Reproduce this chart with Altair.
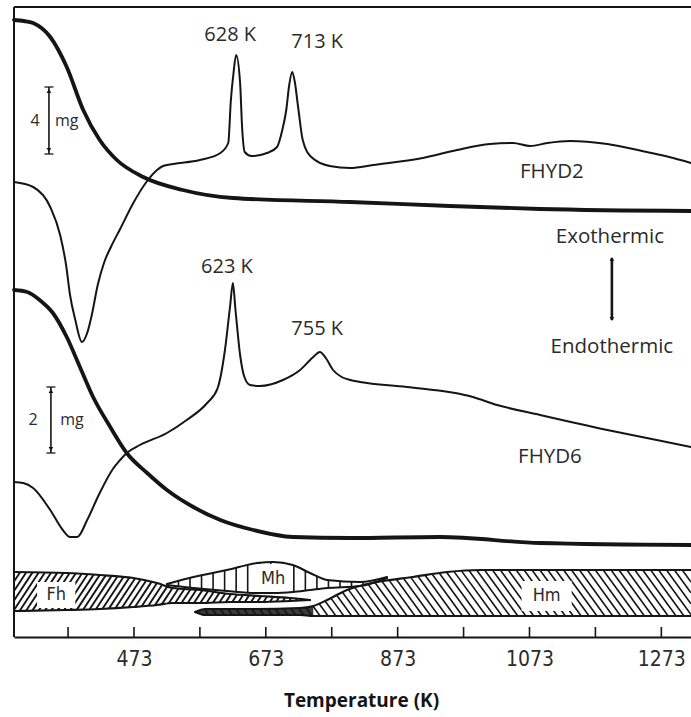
import altair as alt
import numpy as np
import pandas as pd

# Temperature axis (K) and an arbitrary signal scale (0 = bottom of the frame)
T_MIN, T_MAX = 291, 1318
S_MIN, S_MAX = 0, 630

tick_temps = [373, 473, 573, 673, 773, 873, 973, 1073, 1173, 1273]
label_temps = [473, 673, 873, 1073, 1273]

# FHYD2: TG (mass loss, thick) and DTA (thin)
fhyd2_tg_T = [291, 306, 320, 346, 371, 396, 421, 447, 487, 547, 623, 801, 952, 1089, 1318]
fhyd2_tg_v = [617, 616, 614, 600, 570, 527, 497, 477, 460, 447, 439, 435, 431, 428, 426]

fhyd2_dta_T = [291, 320, 346, 361, 370, 376, 384, 394, 402, 409,
               418, 428, 438, 452, 472, 493, 508, 517, 532, 573,
               604, 616, 620, 624, 628, 634, 637, 641, 651, 675,
               690, 698, 704, 708.5, 713, 717, 722, 729, 742, 770,
               801, 836, 911, 963, 1013, 1048, 1074, 1100, 1134, 1191,
               1251, 1291, 1318]
fhyd2_dta_v = [455, 450, 430, 402, 372, 342, 317, 295, 304, 322,
               352, 375, 390, 408, 434, 456, 467, 471, 473, 477,
               484, 494, 537, 564, 582, 554, 510, 485, 481, 484,
               490, 507, 527, 552, 565, 555, 530, 497, 480, 471,
               469, 472, 479, 487, 493, 494, 491, 494, 496, 493,
               485, 479, 474]

# FHYD6: TG (thick) and DTA (thin)
fhyd6_tg_T = [291, 311, 330, 350, 371, 391, 411, 437, 462, 493, 523, 563, 604, 654, 714, 801, 937, 1089, 1318]
fhyd6_tg_v = [347, 345, 337, 324, 300, 270, 240, 210, 184, 164, 147, 130, 117, 107, 100, 99, 100, 94, 92]

fhyd6_dta_T = [291, 305, 320, 346, 365, 376, 387, 402, 421, 441,
               452, 462, 482, 523, 553, 584, 600, 611, 619, 623,
               627, 634, 640, 649, 664, 699, 725, 745, 755, 764,
               775, 788, 801, 816, 887, 987, 1024, 1089, 1191, 1266,
               1318]
fhyd6_dta_v = [155, 154, 149, 127, 107, 100, 100, 117, 144, 168,
               177, 184, 192, 204, 217, 234, 249, 287, 332, 354,
               327, 282, 261, 252, 251, 257, 267, 280, 285, 279,
               267, 260, 257, 255, 250, 240, 232, 222, 207, 197,
               190]

# Phase bands: ferrihydrite (Fh), maghemite (Mh), hematite (Hm)
fh_T = [291, 371, 421, 472, 508, 532, 573, 619, 664, 710, 740]
fh_top = [65, 64, 62, 59, 54, 49, 47, 43, 41, 39, 37]
fh_bot = [26, 27, 28, 30, 32, 34, 34, 35, 35, 36, 37]

mh_T = [523, 563, 614, 660, 684, 714, 740, 766, 816, 857]
mh_top = [53, 60, 67, 74, 75, 72, 64, 57, 55, 60]
mh_bot = [52, 49, 46, 44, 44, 45, 47, 49, 51, 59]

hm_T = [566, 581, 649, 725, 745, 766, 796, 842, 896, 948, 998, 1318]
hm_top = [25, 28, 28, 29, 31, 37, 47, 55, 60, 65, 67, 67]
hm_bot = [25, 22, 22, 22, 21, 21, 21, 21, 21, 21, 21, 21]
hm_tongue_end = 745  # dense early-hematite tongue

# Peak annotations
peak_text = ["628 K", "713 K", "623 K", "755 K"]
peak_T = [619, 751, 614, 751]
peak_v = [602, 595, 370, 308]

# Other annotations
note_text = ["FHYD2", "FHYD6", "Exothermic", "Endothermic"]
note_T = [1107, 1104, 1195, 1198]
note_v = [465, 180, 400, 290]

# Band labels with their clear boxes (half-width in K, half-height in signal units)
band_text = ["Fh", "Mh", "Hm"]
band_T = [355, 684, 1099]
band_v = [42, 58, 41]
band_half_w = [29, 25, 38]
band_half_h = [13, 15, 15]

# Mass scale bars: position, lower and upper ends
bar_text = ["4", "2"]
bar_T = [344, 347]
bar_lo = [483, 184]
bar_hi = [550, 250]
bar_num_T = [323, 320]
bar_unit_T = [371, 379]

# Exo/endo arrow
arrow_T = 1198
arrow_lo, arrow_hi = 317, 379

INK = "#151515"
TXT = "#2b2b2b"
SANS = "Open Sans"
NARROW = "'Liberation Sans Narrow', 'DejaVu Sans Condensed', sans-serif"

xs = alt.Scale(domain=[T_MIN, T_MAX], nice=False, zero=False)
ys = alt.Scale(domain=[S_MIN, S_MAX], nice=False, zero=False)
X_AX = alt.Axis(values=label_temps, format="d", ticks=False, tickSize=0, grid=False,
                domain=True, domainColor=INK, domainWidth=2,
                labelFont=NARROW, labelFontSize=21, labelColor=TXT,
                labelPadding=11, labelFlush=False,
                title="Temperature (K)", titleFont=SANS, titleFontSize=19,
                titleFontWeight="bold", titleColor=INK,
                titleX=347, titleY=63, titleBaseline="middle")


def X(field):
    return alt.X(field, scale=xs, axis=X_AX)


def Y(field):
    return alt.Y(field, scale=ys, axis=None)


# ---- traces and band outlines ----
def trace(T, v, name, width):
    return pd.DataFrame({"T": T, "v": v, "series": name, "w": width})


lines_df = pd.concat([
    trace(fhyd2_tg_T, fhyd2_tg_v, "FHYD2 TG", 3.8),
    trace(fhyd2_dta_T, fhyd2_dta_v, "FHYD2 DTA", 2.0),
    trace(fhyd6_tg_T, fhyd6_tg_v, "FHYD6 TG", 3.8),
    trace(fhyd6_dta_T, fhyd6_dta_v, "FHYD6 DTA", 2.0),
    trace(fh_T, fh_top, "Fh top", 2.2),
    trace(fh_T, fh_bot, "Fh bottom", 2.2),
    trace(mh_T, mh_top, "Mh top", 2.0),
    trace(mh_T, mh_bot, "Mh bottom", 2.0),
    trace(hm_T, hm_top, "Hm top", 2.2),
    trace(hm_T, hm_bot, "Hm bottom", 2.2),
], ignore_index=True)


# ---- hatching clipped to each band ----
def hatch(T_edge, top_edge, bot_edge, spacing, lean, width):
    T_edge = np.asarray(T_edge, float)
    top_edge = np.asarray(top_edge, float)
    bot_edge = np.asarray(bot_edge, float)
    lo_T, hi_T = T_edge.min(), T_edge.max()
    lo_v, hi_v = bot_edge.min(), top_edge.max()
    vs = np.linspace(lo_v, hi_v, 400)
    reach = abs(lean) * (hi_v - lo_v)
    rows = []
    for c in np.arange(lo_T - reach - spacing, hi_T + reach + spacing, spacing):
        ts = c + lean * (vs - lo_v)
        top = np.interp(ts, T_edge, top_edge)
        bot = np.interp(ts, T_edge, bot_edge)
        inside = (ts >= lo_T) & (ts <= hi_T) & (vs <= top) & (vs >= bot)
        idx = np.flatnonzero(inside)
        if idx.size < 2:
            continue
        for run in np.split(idx, np.flatnonzero(np.diff(idx) > 1) + 1):
            if run.size < 2:
                continue
            rows.append({"x": ts[run[0]], "y": vs[run[0]],
                         "x2": ts[run[-1]], "y2": vs[run[-1]], "w": width})
    return rows


hatch_df = pd.DataFrame(
    hatch(fh_T, fh_top, fh_bot, 9.5, 1.0, 1.9)
    + hatch(mh_T, mh_top, mh_bot, 17.5, 0.0, 1.6)
    + hatch(hm_T, hm_top, hm_bot, 12.0, -1.1, 1.6)
)

n_tongue = sum(t <= hm_tongue_end for t in hm_T)
tongue_df = pd.DataFrame({"T": hm_T[:n_tongue], "top": hm_top[:n_tongue],
                          "bot": hm_bot[:n_tongue]})

boxes_df = pd.DataFrame({
    "x": [t - w for t, w in zip(band_T, band_half_w)],
    "x2": [t + w for t, w in zip(band_T, band_half_w)],
    "y": [v - h for v, h in zip(band_v, band_half_h)],
    "y2": [v + h for v, h in zip(band_v, band_half_h)],
})

frame_df = pd.DataFrame({"x": [T_MIN, T_MIN], "y": [S_MIN, S_MAX],
                         "x2": [T_MIN, T_MAX], "y2": [S_MAX, S_MAX]})
ticks_df = pd.DataFrame({"T": tick_temps})

bars_df = pd.DataFrame({"T": bar_T, "lo": bar_lo, "hi": bar_hi})
caps_df = pd.DataFrame({"T": bar_T + bar_T, "v": bar_lo + bar_hi})
heads_df = pd.DataFrame({
    "T": bar_T + bar_T + [arrow_T, arrow_T],
    "v": [v + 4 for v in bar_lo] + [v - 4 for v in bar_hi] + [arrow_lo + 1, arrow_hi - 1],
    "shape": ["triangle-down"] * 2 + ["triangle-up"] * 2 + ["triangle-down", "triangle-up"],
})
arrow_df = pd.DataFrame({"T": [arrow_T], "lo": [arrow_lo], "hi": [arrow_hi]})

peaks_df = pd.DataFrame({"T": peak_T, "v": peak_v, "text": peak_text})
notes_df = pd.DataFrame({"T": note_T, "v": note_v, "text": note_text})
bands_df = pd.DataFrame({"T": band_T, "v": band_v, "text": band_text})
bar_labels_df = pd.DataFrame({
    "T": bar_num_T + bar_unit_T,
    "v": [(a + b) / 2 for a, b in zip(bar_lo, bar_hi)] * 2,
    "text": bar_text + ["mg", "mg"],
})

layers = [
    alt.Chart(tongue_df).mark_area(color="#3a3a3a", interpolate="monotone").encode(
        x=X("T:Q"), y=Y("bot:Q"), y2="top:Q"),
    alt.Chart(hatch_df).mark_rule(color=INK).encode(
        x=X("x:Q"), x2="x2:Q", y=Y("y:Q"), y2="y2:Q",
        strokeWidth=alt.StrokeWidth("w:Q", scale=None)),
    alt.Chart(boxes_df).mark_rect(color="white").encode(
        x=X("x:Q"), x2="x2:Q", y=Y("y:Q"), y2="y2:Q"),
    alt.Chart(lines_df).mark_line(color=INK, interpolate="monotone",
                                  strokeCap="round", strokeJoin="round").encode(
        x=X("T:Q"), y=Y("v:Q"), detail="series:N",
        strokeWidth=alt.StrokeWidth("w:Q", scale=None)),
    alt.Chart(frame_df).mark_rule(color=INK, strokeWidth=2).encode(
        x=X("x:Q"), x2="x2:Q", y=Y("y:Q"), y2="y2:Q"),
    alt.Chart(ticks_df).mark_rule(color=INK, strokeWidth=1.6).encode(
        x=X("T:Q"), y=alt.value(630), y2=alt.value(620)),
    alt.Chart(bars_df).mark_rule(color=INK, strokeWidth=1.6).encode(
        x=X("T:Q"), y=Y("lo:Q"), y2="hi:Q"),
    alt.Chart(arrow_df).mark_rule(color=INK, strokeWidth=2.6).encode(
        x=X("T:Q"), y=Y("lo:Q"), y2="hi:Q"),
    alt.Chart(caps_df).mark_tick(color=INK, orient="horizontal", size=9, thickness=1.8).encode(
        x=X("T:Q"), y=Y("v:Q")),
    alt.Chart(heads_df).mark_point(color=INK, filled=True, opacity=1, size=22).encode(
        x=X("T:Q"), y=Y("v:Q"), shape=alt.Shape("shape:N", scale=None)),
    alt.Chart(peaks_df).mark_text(font=SANS, fontSize=20, color=TXT).encode(
        x=X("T:Q"), y=Y("v:Q"), text="text:N"),
    alt.Chart(notes_df).mark_text(font=SANS, fontSize=20.5, color=TXT).encode(
        x=X("T:Q"), y=Y("v:Q"), text="text:N"),
    alt.Chart(bands_df).mark_text(font=NARROW, fontSize=18, color=TXT).encode(
        x=X("T:Q"), y=Y("v:Q"), text="text:N"),
    alt.Chart(bar_labels_df).mark_text(font=SANS, fontSize=16, color=TXT).encode(
        x=X("T:Q"), y=Y("v:Q"), text="text:N"),
]

chart = alt.layer(*layers).properties(
    width=677, height=630,
    padding={"left": 14, "top": 7, "right": 0, "bottom": 80},
    autosize=alt.AutoSizeParams(type="none"),
).configure_view(stroke=None).configure(background="white")

chart.save("out.html", embed_options={"renderer": "svg", "actions": False})
